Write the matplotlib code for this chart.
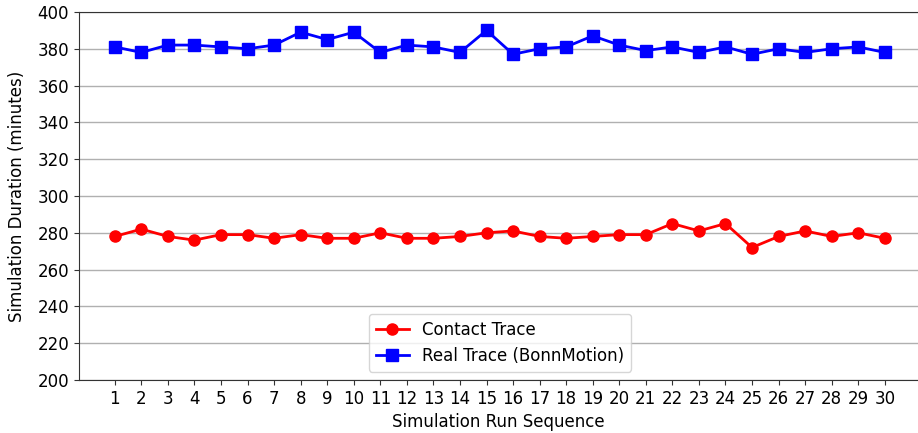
import matplotlib
matplotlib.use("Agg")
import matplotlib.pyplot as plt

runs = list(range(1, 31))
contact = [278, 282, 278, 276, 279, 279, 277, 279, 277, 277, 280, 277, 277, 278, 280,
           281, 278, 277, 278, 279, 279, 285, 281, 285, 272, 278, 281, 278, 280, 277]
real = [381, 378, 382, 382, 381, 380, 382, 389, 385, 389, 378, 382, 381, 378, 390,
        377, 380, 381, 387, 382, 379, 381, 378, 381, 377, 380, 378, 380, 381, 378]
yticks = list(range(200, 401, 20))

fig = plt.figure(figsize=(9.18, 4.33), dpi=100)
ax = fig.add_axes([0.086, 0.1224, 0.914, 0.85])
ax.plot(runs, contact, color="red", marker="o", markersize=8, linewidth=2, label="Contact Trace")
ax.plot(runs, real, color="blue", marker="s", markersize=8, linewidth=2, label="Real Trace (BonnMotion)")
ax.set_xlim(-0.35, 31.25)
ax.set_ylim(200, 400)
ax.set_xticks(runs)
ax.set_yticks(yticks)
ax.tick_params(labelsize=12, color="#333333")
ax.yaxis.grid(True, color="#b0b0b0", linewidth=1)
ax.set_axisbelow(True)
ax.spines["right"].set_visible(False)
for s in ("left", "top", "bottom"):
    ax.spines[s].set_color("#333333")
ax.set_xlabel("Simulation Run Sequence", fontsize=12)
ax.set_ylabel("Simulation Duration (minutes)", fontsize=12, labelpad=8)
ax.legend(loc="lower center", bbox_to_anchor=(0.502, 0.0), fontsize=12)
fig.savefig("out.png", dpi=100)
